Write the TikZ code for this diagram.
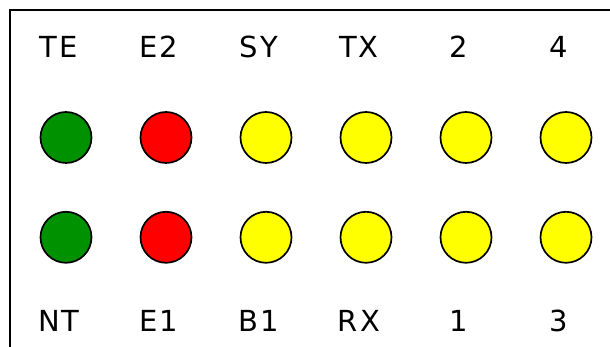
\documentclass[tikz,border=0pt]{standalone}
\usepackage{fontspec}
\setmainfont{DejaVu Sans}
\definecolor{ledgreen}{RGB}{0,145,0}
\definecolor{ledred}{RGB}{255,0,0}
\definecolor{ledyellow}{RGB}{255,255,0}
\begin{document}
\begin{tikzpicture}[x=1pt,y=1pt,
  led/.style={circle,draw=black,line width=1.7pt,minimum size=51pt,inner sep=0pt},
  tag/.style={anchor=base,inner sep=0pt,font=\fontsize{29}{29}\selectfont\addfontfeatures{LetterSpace=7}}]
  \useasboundingbox (0,0) rectangle (610,347);
  \clip (0,0) rectangle (610,347);
  \fill[white] (0,0) rectangle (610,347);
  % panel outline, only its top and left edges are in view
  \draw[line width=2pt] (10,-10) rectangle (640,337);
  % LED columns
  \foreach \i/\col/\top/\bot in {0/ledgreen/TE/NT, 1/ledred/E2/E1, 2/ledyellow/SY/B1,
                                 3/ledyellow/TX/RX, 4/ledyellow/2/1, 5/ledyellow/4/3} {
    \node[led,fill=\col] (up\i) at (66+100*\i,209.5) {};
    \node[led,fill=\col] (dn\i) at (66+100*\i,109.7) {};
    \node[tag] (tt\i) at (59+100*\i,289.5) {\top};
    \node[tag] (bt\i) at (59+100*\i,15) {\bot};
  }
\end{tikzpicture}
\end{document}
